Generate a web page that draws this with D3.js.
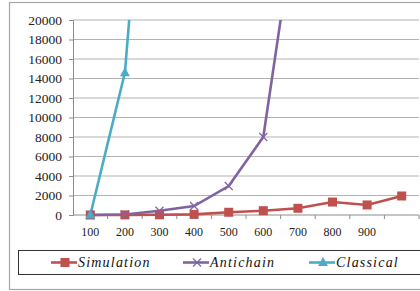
<!DOCTYPE html>
<html>
<head>
<meta charset="utf-8">
<script src="https://cdn.jsdelivr.net/npm/d3@7"></script>
<style>
  body { margin: 0; background: #fff; }
  svg { display: block; }
</style>
</head>
<body>
<div id="chart"></div>
<script>
// categories and series values
const categories = ["100", "200", "300", "400", "500", "600", "700", "800", "900", "1000"];
const tickLabels = ["100", "200", "300", "400", "500", "600", "700", "800", "900", ""];
const simulation = [0, 10, 20, 60, 280, 440, 690, 1330, 1030, 1950];
const antichain = [0, 50, 440, 920, 2970, 8000, 32000];
const classical = [0, 14600, 58000];
const yTicks = [0, 2000, 4000, 6000, 8000, 10000, 12000, 14000, 16000, 18000, 20000];

const serif = "'Liberation Serif'";
const width = 420, height = 291;
let margin = { top: 20, right: 1, bottom: 76, left: 73 };
const w = width - margin.left - margin.right;
const h = height - margin.top - margin.bottom;

const series = [
  { name: "Simulation", values: simulation, color: "#c0504d", marker: "square" },
  { name: "Antichain", values: antichain, color: "#8064a2", marker: "cross" },
  { name: "Classical", values: classical, color: "#4bacc6", marker: "triangle" }
];

const svg = d3.select("#chart").append("svg")
  .attr("width", width)
  .attr("height", height);

// outer frame
svg.append("rect")
  .attr("x", 9.5).attr("y", 2.5)
  .attr("width", 430).attr("height", 287)
  .attr("fill", "none")
  .attr("stroke", "#a6a6a6")
  .attr("stroke-width", 1.2);

const x = d3.scaleBand().domain(categories).range([0, w]);
const y = d3.scaleLinear().domain([0, 20000]).range([h, 0]);

const g = svg.append("g").attr("transform", `translate(${margin.left},${margin.top})`);

g.append("clipPath").attr("id", "clip")
  .append("rect").attr("x", -20).attr("y", 0).attr("width", w + 40).attr("height", h + 30);

// gridlines
g.append("g")
  .selectAll("line")
  .data(yTicks.slice(1))
  .join("line")
  .attr("x1", 0).attr("x2", w)
  .attr("y1", d => y(d)).attr("y2", d => y(d))
  .attr("stroke", "#b3b3b3")
  .attr("stroke-width", 1);

// y axis
const yAxis = g.append("g")
  .call(d3.axisLeft(y).tickValues(yTicks).tickSize(4).tickPadding(7).tickFormat(d3.format("d")));
yAxis.select(".domain").attr("stroke", "#8c8c8c");
yAxis.selectAll(".tick line").attr("stroke", "#8c8c8c");
yAxis.selectAll("text")
  .style("font-family", serif)
  .style("font-size", "13.5px")
  .attr("fill", "#222");

// x axis with ticks between categories
const xAxis = g.append("g").attr("transform", `translate(0,${h})`);
xAxis.append("line").attr("x1", 0).attr("x2", w).attr("stroke", "#8c8c8c");
xAxis.selectAll(".sep")
  .data(categories)
  .join("line")
  .attr("class", "sep")
  .attr("x1", d => x(d) + x.bandwidth()).attr("x2", d => x(d) + x.bandwidth())
  .attr("y1", 0).attr("y2", 4)
  .attr("stroke", "#8c8c8c");
xAxis.selectAll(".lbl")
  .data(categories)
  .join("text")
  .attr("class", "lbl")
  .attr("x", d => x(d) + x.bandwidth() / 2)
  .attr("y", 21)
  .attr("text-anchor", "middle")
  .style("font-family", serif)
  .style("font-size", "12px")
  .attr("fill", "#222")
  .text((d, i) => tickLabels[i]);

const cx = (d, i) => x(categories[i]) + x.bandwidth() / 2;
const line = d3.line().x(cx).y(d => y(d));

function drawMarker(sel, type, color) {
  if (type === "square") {
    sel.append("rect").attr("x", -4.5).attr("y", -4.5).attr("width", 9).attr("height", 9).attr("fill", color);
  } else if (type === "cross") {
    sel.append("path").attr("d", "M-4,-4L4,4M-4,4L4,-4").attr("stroke", color).attr("stroke-width", 1.2).attr("fill", "none");
  } else {
    sel.append("path").attr("d", "M0,-5.5L5,3.5L-5,3.5Z").attr("fill", color);
  }
}

const plot = g.append("g").attr("clip-path", "url(#clip)");

series.forEach(s => {
  plot.append("path")
    .datum(s.values)
    .attr("d", line)
    .attr("fill", "none")
    .attr("stroke", s.color)
    .attr("stroke-width", 2.6);
});

series.forEach(s => {
  plot.selectAll(null)
    .data(s.values.map((v, i) => ({ v, i })).filter(d => d.v <= 20000))
    .join("g")
    .attr("transform", d => `translate(${cx(d.v, d.i)},${y(d.v)})`)
    .each(function () { drawMarker(d3.select(this), s.marker, s.color); });
});

// legend
const legend = svg.append("g");
legend.append("rect")
  .attr("x", 18.5).attr("y", 250.5)
  .attr("width", 420).attr("height", 24)
  .attr("fill", "#fff")
  .attr("stroke", "#333")
  .attr("stroke-width", 1);

const legendX = [51, 183, 309];
series.forEach((s, i) => {
  const lg = legend.append("g").attr("transform", `translate(${legendX[i]},262.5)`);
  lg.append("line").attr("x1", 0).attr("x2", 26).attr("stroke", s.color).attr("stroke-width", 2.6);
  drawMarker(lg.append("g").attr("transform", "translate(14,0)"), s.marker, s.color);
  lg.append("text")
    .attr("x", 27).attr("y", 4.5)
    .style("font-family", serif)
    .style("font-style", "italic")
    .style("font-size", "14px")
    .style("letter-spacing", "1.2px")
    .attr("fill", "#111")
    .text(s.name);
});
</script>
</body>
</html>
